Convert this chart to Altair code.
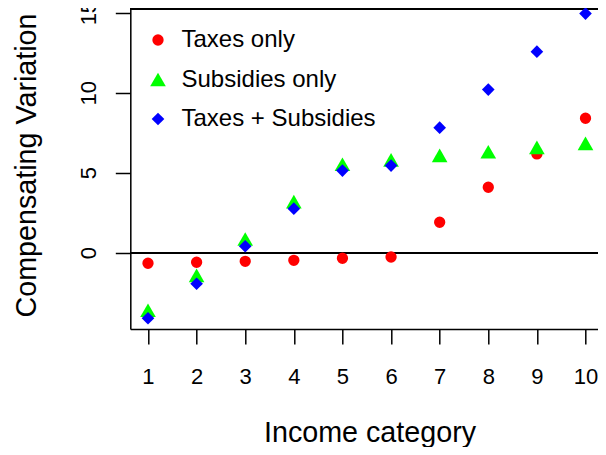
import altair as alt
import pandas as pd

income = [1, 2, 3, 4, 5, 6, 7, 8, 9, 10]
taxes_only = [-0.66, -0.60, -0.54, -0.48, -0.35, -0.27, 1.90, 4.09, 6.17, 8.40]
subsidies_only = [-3.60, -1.42, 0.86, 3.19, 5.52, 5.80, 6.08, 6.31, 6.58, 6.83]
taxes_subsidies = [-4.10, -1.94, 0.40, 2.75, 5.13, 5.44, 7.81, 10.19, 12.56, 14.94]

series = ["Taxes only", "Subsidies only", "Taxes + Subsidies"]
colors = ["#FF0000", "#00FF00", "#0000FF"]
shapes = ["circle", "triangle-up", "diamond"]
sizes = [128, 245, 160]

y_ticks = [0, 5, 10, 15]
x_domain = [0.636, 10.257]
y_domain = [-4.77, 15.29]

rows = []
for name, vals in zip(series, [taxes_only, subsidies_only, taxes_subsidies]):
    for xi, yi in zip(income, vals):
        rows.append({"income": xi, "cv": yi, "series": name})
df = pd.DataFrame(rows)

FONT = "Liberation Sans"
W, H = 467.7, 321

points = alt.Chart(df).mark_point(filled=True, opacity=1, strokeWidth=0).encode(
    x=alt.X("income:Q", scale=alt.Scale(domain=x_domain, nice=False, zero=False),
            axis=alt.Axis(values=income, title="Income category", grid=False,
                          tickSize=15, tickWidth=1.5, tickColor="#000000",
                          domainColor="#000000", domainWidth=1.5,
                          labelFontSize=22, labelFont=FONT, labelColor="#000000",
                          labelBaseline="alphabetic", labelPadding=39,
                          labelFlush=False, labelOverlap=False,
                          titleFontSize=28.7, titleFont=FONT, titleFontWeight="normal",
                          titleColor="#000000", titleX=239.2, titleY=112,
                          titleBaseline="alphabetic", titleAlign="center")),
    y=alt.Y("cv:Q", scale=alt.Scale(domain=y_domain, nice=False, zero=False),
            axis=alt.Axis(values=y_ticks, title="Compensating Variation", grid=False,
                          tickSize=15, tickWidth=1.5, tickColor="#000000",
                          domainColor="#000000", domainWidth=1.5,
                          labelFontSize=22, labelFont=FONT, labelColor="#000000",
                          labelAngle=270, labelAlign="center", labelBaseline="alphabetic",
                          labelPadding=20, labelFlush=False, labelOverlap=False,
                          titleFontSize=28.7, titleFont=FONT, titleFontWeight="normal",
                          titleColor="#000000", titleAngle=270, titleX=-95, titleY=157,
                          titleBaseline="alphabetic", titleAlign="center")),
    color=alt.Color("series:N", scale=alt.Scale(domain=series, range=colors),
                    legend=alt.Legend(title=None, orient="none", legendX=15.7, legendY=20,
                                      labelFontSize=24, labelFont=FONT, labelColor="#000000",
                                      symbolSize=140, symbolStrokeWidth=0, labelOffset=11.5,
                                      rowPadding=15.5, padding=0, labelLimit=400)),
    shape=alt.Shape("series:N", scale=alt.Scale(domain=series, range=shapes)),
    size=alt.Size("series:N", scale=alt.Scale(type="ordinal", domain=series, range=sizes),
                  legend=None),
)

zero_line = alt.Chart(df).mark_rule(color="#000000", strokeWidth=1.5).encode(
    y=alt.datum(0)
)
top_line = alt.Chart(df).mark_rule(color="#000000", strokeWidth=1.5).encode(
    y=alt.datum(y_domain[1] - 0.05)
)

chart = alt.layer(zero_line, top_line, points).properties(
    width=W, height=H,
    autosize=alt.AutoSizeParams(type="none"),
    padding={"left": 122.3, "top": 0, "right": 0, "bottom": 118},
).configure_view(stroke=None).configure(background="#FFFFFF")

chart.save("out.html", embed_options={"renderer": "svg", "actions": False})
